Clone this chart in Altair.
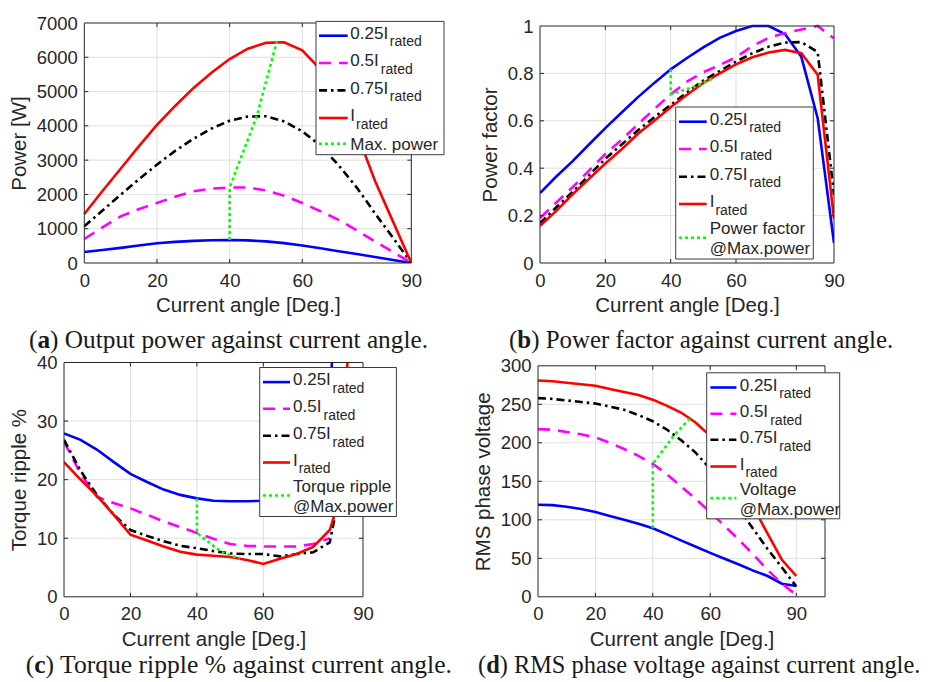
import altair as alt
import pandas as pd

# ---------------- data ----------------
ANGLES = [0, 5, 10, 15, 20, 25, 30, 35, 40, 45, 50, 55, 60, 65, 70, 75, 80, 85, 90]
X_TICKS = [0, 20, 40, 60, 90]

# (a) Output power [W]
P_025 = [320, 380, 440, 510, 575, 615, 645, 665, 670, 660, 630, 580, 510, 430, 345, 260, 175, 90, 0]
P_050 = [700, 1040, 1360, 1570, 1750, 1930, 2090, 2170, 2200, 2200, 2120, 1960, 1750, 1510, 1260, 950, 630, 320, 0]
P_075 = [1070, 1530, 1990, 2440, 2870, 3270, 3620, 3920, 4150, 4270, 4280, 4130, 3840, 3420, 2850, 2200, 1450, 730, 0]
P_100 = [1430, 2100, 2750, 3400, 4030, 4580, 5100, 5550, 5950, 6250, 6420, 6440, 6200, 5650, 4850, 3800, 2400, 1200, 0]
P_MAX_X = [40, 40, 47.5, 53]
P_MAX_Y = [670, 2200, 4290, 6460]
P_TICKS = [0, 1000, 2000, 3000, 4000, 5000, 6000, 7000]

# (b) Power factor
PF_025 = [0.295, 0.365, 0.43, 0.50, 0.569, 0.635, 0.70, 0.76, 0.817, 0.865, 0.91, 0.95, 0.979, 1.0, 1.0, 0.966, 0.87, 0.611, 0.084]
PF_050 = [0.19, 0.255, 0.32, 0.39, 0.46, 0.52, 0.585, 0.65, 0.712, 0.765, 0.805, 0.835, 0.868, 0.915, 0.95, 0.97, 0.985, 1.0, 0.948]
PF_075 = [0.168, 0.235, 0.30, 0.37, 0.44, 0.50, 0.56, 0.615, 0.667, 0.72, 0.77, 0.81, 0.85, 0.885, 0.913, 0.93, 0.932, 0.89, 0.288]
PF_100 = [0.157, 0.22, 0.29, 0.355, 0.42, 0.48, 0.545, 0.60, 0.657, 0.71, 0.76, 0.80, 0.838, 0.868, 0.888, 0.899, 0.885, 0.794, 0.185]
PF_MAX_X = [40, 40, 47.5, 53]
PF_MAX_Y = [0.817, 0.712, 0.745, 0.78]
PF_TICKS = [0, 0.2, 0.4, 0.6, 0.8, 1]

# (c) Torque ripple %
TR_X_025 = [0, 5, 10, 15, 20, 25, 30, 35, 40, 45, 50, 55, 60, 65, 70, 75, 80, 82]
TR_025 = [27.9, 26.8, 25.1, 23.0, 21.0, 19.6, 18.3, 17.4, 16.8, 16.4, 16.3, 16.3, 16.4, 17.0, 18.5, 22.0, 35.0, 50.0]
TR_X_050 = [0, 5, 10, 15, 20, 25, 30, 35, 40, 45, 50, 55, 60, 65, 70, 75, 80]
TR_050 = [26.5, 21.0, 17.0, 16.0, 15.1, 14.0, 12.9, 11.9, 10.9, 9.9, 9.0, 8.7, 8.6, 8.6, 8.6, 9.0, 10.0]
TR_X_075 = [0, 5, 10, 15, 20, 25, 30, 35, 40, 45, 50, 55, 60, 65, 70, 75, 80, 82, 85]
TR_075 = [26.8, 21.5, 17.3, 14.0, 11.4, 10.4, 9.5, 8.7, 8.3, 7.8, 7.4, 7.3, 7.3, 6.9, 7.3, 7.6, 9.3, 15.0, 30.0]
TR_X_100 = [0, 5, 10, 15, 20, 25, 30, 35, 40, 45, 50, 55, 60, 65, 70, 75, 80, 82, 86]
TR_100 = [23.0, 20.0, 17.2, 14.0, 10.6, 9.6, 8.6, 7.7, 7.2, 7.0, 6.8, 6.3, 5.6, 6.5, 7.3, 8.5, 11.4, 15.0, 45.0]
TR_MAX_X = [40, 40, 47.5, 53]
TR_MAX_Y = [16.8, 10.9, 7.6, 6.5]
TR_TICKS = [0, 10, 20, 30, 40]

# (d) RMS phase voltage
V_025 = [119.5, 119, 117, 114, 110, 105, 100, 95, 89, 81, 73, 65, 57, 49.5, 42, 34, 27, 17, 14]
V_050 = [217.7, 217, 214, 211, 207, 200, 192, 183, 172.7, 159, 143, 127, 110, 92, 74, 55, 35, 17, 2.6]
V_075 = [258, 257, 255, 253, 251, 247, 243, 236, 228, 217, 203, 187, 166, 141, 115, 88, 62, 38, 13.4]
V_100 = [281, 280, 278, 276, 274, 270, 266, 262, 256, 248, 239, 226, 209, 186, 157, 117, 82, 48, 27]
V_MAX_X = [40, 40, 47.5, 53]
V_MAX_Y = [89, 172.7, 210, 232]
V_TICKS = [0, 50, 100, 150, 200, 250, 300]

# ---------------- styling ----------------
FONT = "Liberation Sans"
SERIF = "Liberation Serif"
TXT = "#262626"
AX = "#262626"
GRID = "#dfdfdf"
STYLES = {
    "0.25": ("#0000ff", None),
    "0.5": ("#ff00ff", [12, 8]),
    "0.75": ("#000000", [8, 4, 2.5, 4]),
    "1": ("#ff0000", None),
    "max": ("#00ff00", [3, 3]),
}
LW = 2.6
LEG_FS = 17
SUB_FS = 14
SUB_DX = {"0.25I": 39.5, "0.5I": 30.5, "0.75I": 39.5, "I": 5.7}
BOLD_W = {"a": 0.5, "b": 0.556, "c": 0.444, "d": 0.556}

ONE = pd.DataFrame({"k": [0]})


def text_layer(txt, x, y, size, font=FONT, weight="normal", color=TXT):
    return alt.Chart(ONE).mark_text(
        text=txt, align="left", baseline="alphabetic", font=font,
        fontSize=size, fontWeight=weight, color=color
    ).encode(x=alt.value(x), y=alt.value(y))


def build_panel(series, xdom, ydom, yticks, yfmt, ytitle, W, H, legend, caption, lp=0.0, tp=0.0):
    GW, GH = W + lp, H + tp          # group size; plot area is [lp, GW] x [tp, GH]
    xaxis = dict(values=X_TICKS, title="Current angle [Deg.]", format="d", grid=False)
    if lp:
        xaxis["titleX"] = lp + W / 2
    yaxis = dict(values=yticks, title=ytitle, format=yfmt, grid=False)
    if lp:
        yaxis["offset"] = -lp
    xenc = alt.X("x:Q", scale=alt.Scale(domain=xdom, nice=False, zero=False, range=[lp, GW]),
                 axis=alt.Axis(**xaxis))
    yenc = alt.Y("y:Q", scale=alt.Scale(domain=ydom, nice=False, zero=False, range=[GH, tp]),
                 axis=alt.Axis(**yaxis))

    xt = pd.DataFrame({"x": [t for t in X_TICKS if xdom[0] < t < xdom[1]]})
    yt = pd.DataFrame({"y": [t for t in yticks if ydom[0] < t < ydom[1]]})

    layers = []
    # grid lines (through the scales)
    layers.append(alt.Chart(xt).mark_rule(color=GRID, strokeWidth=1).encode(x=xenc, y=alt.value(tp), y2=alt.value(GH)))
    layers.append(alt.Chart(yt).mark_rule(color=GRID, strokeWidth=1).encode(y=yenc, x=alt.value(lp), x2=alt.value(GW)))

    for xs, ys, key in series:
        color, dash = STYLES[key]
        kw = dict(color=color, strokeWidth=LW, clip=True, strokeCap="butt")
        if dash:
            kw["strokeDash"] = dash
        layers.append(alt.Chart(pd.DataFrame({"x": xs, "y": ys})).mark_line(**kw).encode(x=xenc, y=yenc))

    # inner tick marks (MATLAB style)
    layers.append(alt.Chart(xt).mark_rule(color=AX, strokeWidth=1).encode(x=xenc, y=alt.value(GH), y2=alt.value(GH - 4)))
    layers.append(alt.Chart(xt).mark_rule(color=AX, strokeWidth=1).encode(x=xenc, y=alt.value(tp), y2=alt.value(tp + 4)))
    layers.append(alt.Chart(yt).mark_rule(color=AX, strokeWidth=1).encode(y=yenc, x=alt.value(lp), x2=alt.value(lp + 4)))
    layers.append(alt.Chart(yt).mark_rule(color=AX, strokeWidth=1).encode(y=yenc, x=alt.value(GW), x2=alt.value(GW - 4)))

    # axes box
    layers.append(alt.Chart(ONE).mark_rect(fill="transparent", stroke=AX, strokeWidth=1).encode(
        x=alt.value(lp), x2=alt.value(GW), y=alt.value(tp), y2=alt.value(GH)))

    # legend
    bx0, bx1, by0, by1 = legend["box"]
    sx0, sx1 = legend["sample"]
    tx = legend["text_x"] + lp
    layers.append(alt.Chart(ONE).mark_rect(fill="white", stroke="#3c3c3c", strokeWidth=1).encode(
        x=alt.value(bx0 + lp), x2=alt.value(bx1 + lp), y=alt.value(by0 + tp), y2=alt.value(by1 + tp)))
    for ry, entry in zip(legend["rows"], legend["entries"]):
        ry = ry + tp
        key = entry[0]
        color, dash = STYLES[key]
        kw = dict(color=color, strokeWidth=LW, strokeCap="butt")
        if dash:
            kw["strokeDash"] = dash
        layers.append(alt.Chart(ONE).mark_rule(**kw).encode(
            x=alt.value(sx0 + lp), x2=alt.value(sx1 + lp), y=alt.value(ry)))
        if entry[1] == "sub":
            main = entry[2]
            layers.append(text_layer(main, tx, ry + 3.2, LEG_FS))
            layers.append(text_layer("rated", tx + SUB_DX[main], ry + 10.7, SUB_FS))
        elif entry[1] == "one":
            layers.append(text_layer(entry[2], tx, ry + 6, LEG_FS))
        else:
            layers.append(text_layer(entry[2], tx, ry - 3.4, LEG_FS))
            layers.append(text_layer(entry[3], tx, ry + 16.6, LEG_FS))

    # caption
    cx, cy, letter, rest, fs = caption
    cx, cy = cx + lp, cy + tp
    layers.append(text_layer("(", cx, cy, fs, font=SERIF, color="#1a1a1a"))
    layers.append(text_layer(letter, cx + 0.333 * fs, cy, fs, font=SERIF, weight="bold", color="#1a1a1a"))
    layers.append(text_layer(rest, cx + (0.333 + BOLD_W[letter]) * fs, cy, fs, font=SERIF, color="#1a1a1a"))

    return alt.layer(*layers).properties(width=GW, height=GH)


ENTRIES = [("0.25", "sub", "0.25I"), ("0.5", "sub", "0.5I"), ("0.75", "sub", "0.75I"), ("1", "sub", "I")]

pa = build_panel(
    [(ANGLES, P_025, "0.25"), (ANGLES, P_050, "0.5"), (ANGLES, P_075, "0.75"), (ANGLES, P_100, "1"),
     (P_MAX_X, P_MAX_Y, "max")],
    [0, 90], [0, 7000], P_TICKS, "d", "Power [W]", 327, 240,
    dict(box=(231.7, 359.7, -1.6, 131.7), sample=(234.7, 263.4), text_x=266,
         rows=[12.7, 40, 67.4, 95, 120.7], entries=ENTRIES + [("max", "one", "Max. power")]),
    (-55.3, 324.7, "a", ") Output power against current angle.", 25.3),
    lp=20.3,
)
pb = build_panel(
    [(ANGLES, PF_025, "0.25"), (ANGLES, PF_050, "0.5"), (ANGLES, PF_075, "0.75"), (ANGLES, PF_100, "1"),
     (PF_MAX_X, PF_MAX_Y, "max")],
    [0, 90], [0, 1], PF_TICKS, "~g", "Power factor", 294, 237,
    dict(box=(135.7, 273.3, 81, 233), sample=(139, 166.7), text_x=169.7,
         rows=[95.7, 123, 150.7, 178, 211.7], entries=ENTRIES + [("max", "two", "Power factor", "@Max.power")]),
    (-31, 322, "b", ") Power factor against current angle.", 24.9),
    tp=3,
)
pc = build_panel(
    [(TR_X_025, TR_025, "0.25"), (TR_X_050, TR_050, "0.5"), (TR_X_075, TR_075, "0.75"), (TR_X_100, TR_100, "1"),
     (TR_MAX_X, TR_MAX_Y, "max")],
    [0, 90], [0, 40], TR_TICKS, "d", "Torque ripple %", 299, 234.3,
    dict(box=(195.7, 332.4, 5, 154), sample=(199, 226), text_x=229,
         rows=[19.6, 46.3, 73.3, 100, 133], entries=ENTRIES + [("max", "two", "Torque ripple", "@Max.power")]),
    (-38.3, 310.3, "c", ") Torque ripple % against current angle.", 25.6),
)
pd_ = build_panel(
    [(ANGLES, V_025, "0.25"), (ANGLES, V_050, "0.5"), (ANGLES, V_075, "0.75"), (ANGLES, V_100, "1"),
     (V_MAX_X, V_MAX_Y, "max")],
    [0, 100], [0, 300], V_TICKS, "d", "RMS phase voltage", 287, 231,
    dict(box=(168.7, 301.7, 7, 153), sample=(172.4, 198.4), text_x=201.7,
         rows=[21.7, 48, 74, 100.7, 132.3], entries=ENTRIES + [("max", "two", "Voltage", "@Max.power")]),
    (-60, 307, "d", ") RMS phase voltage against current angle.", 24.4),
    tp=3.3,
)

row1 = alt.hconcat(pa, pb, spacing=35)
row2 = alt.hconcat(pc, pd_, spacing=20)
chart = alt.vconcat(row1, row2, spacing=0.5).properties(
    padding={"left": 9, "top": 14, "right": 0, "bottom": 0},
    background="white",
).configure_view(
    strokeWidth=0
).configure_axis(
    labelFont=FONT, labelFontSize=18.5, labelColor=TXT,
    titleFont=FONT, titleFontSize=20.5, titleFontWeight="normal", titleColor=TXT,
    domain=False, ticks=False, labelFlush=False, labelOverlap=False, labelBound=False,
).configure_axisX(
    labelPadding=8, titlePadding=6
).configure_axisY(
    labelPadding=7, titlePadding=7
)

chart.save("out.html", embed_options={"renderer": "svg", "actions": False})
